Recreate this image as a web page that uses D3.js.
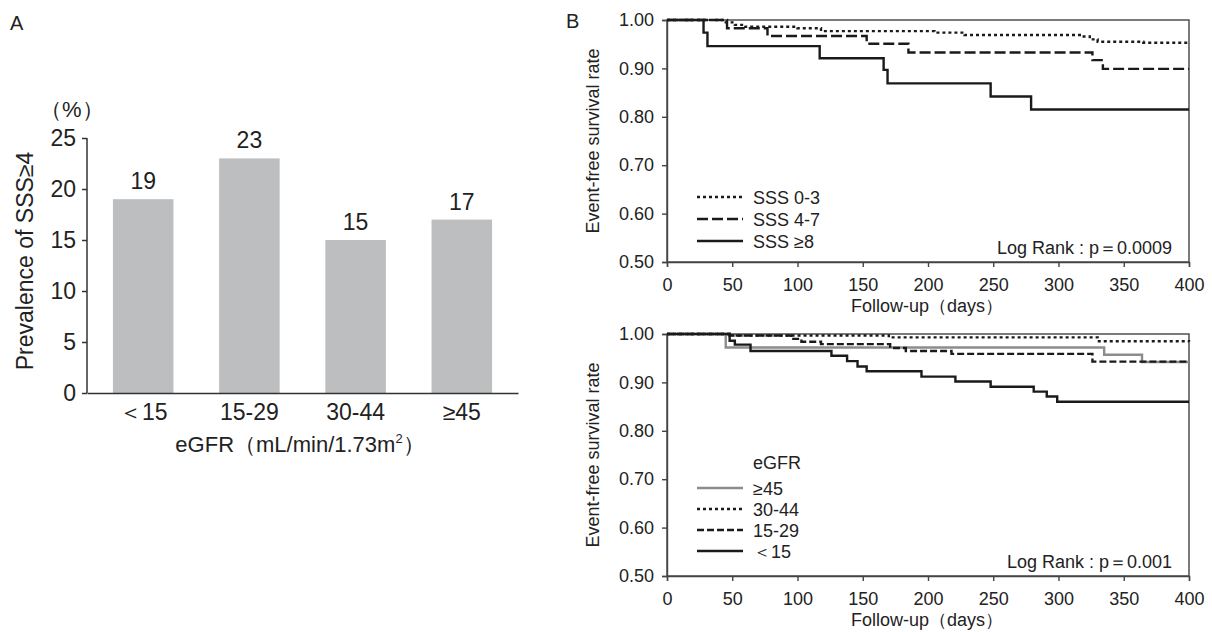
<!DOCTYPE html>
<html>
<head>
<meta charset="utf-8">
<script src="https://cdn.jsdelivr.net/npm/d3@7"></script>
<style>
  body { margin: 0; background: #fff; }
  svg { display: block; font-family: "Liberation Sans", Arial, sans-serif; }
</style>
</head>
<body>
<svg id="fig" width="1212" height="632"></svg>
<script>
// ---- panel A data
var eGFRGroups = ["＜15", "15-29", "30-44", "≥45"];
var prevalence = [19, 23, 15, 17];
var prevTicks = [0, 5, 10, 15, 20, 25];

// ---- panel B data, Kaplan-Meier steps [day, survival]
var sss03 = [[0,1],[38,1],[44,0.995],[52,0.99],[60,0.986],[100,0.983],[118,0.977],[205,0.974],[228,0.969],[318,0.966],[324,0.96],[330,0.955],[365,0.953],[400,0.953]];
var sss47 = [[0,1],[46,0.983],[77,0.967],[153,0.951],[185,0.933],[326,0.917],[334,0.899],[400,0.899]];
var sss8  = [[0,1],[28,0.974],[31,0.946],[117,0.921],[166,0.897],[169,0.869],[248,0.842],[279,0.815],[400,0.815]];

var egfr45   = [[0,1],[45,0.972],[335,0.957],[364,0.942],[400,0.942]];
var egfr3044 = [[0,1],[48,0.997],[170,0.993],[330,0.985],[400,0.984]];
var egfr1529 = [[0,1],[48,0.997],[95,0.99],[103,0.984],[118,0.979],[171,0.971],[183,0.965],[218,0.959],[326,0.943],[400,0.943]];
var egfr15   = [[0,1],[48,0.986],[52,0.978],[64,0.965],[126,0.955],[138,0.944],[146,0.933],[153,0.923],[195,0.912],[221,0.902],[248,0.891],[281,0.881],[291,0.871],[299,0.86],[400,0.86]];

var dayTicks = [0, 50, 100, 150, 200, 250, 300, 350, 400];
var survTicks = [0.5, 0.6, 0.7, 0.8, 0.9, 1.0];

var svg = d3.select("#fig");

// =================== Panel A ===================
svg.append("text").attr("x", 10).attr("y", 30)
  .attr("font-size", 20).attr("fill", "#222").text("A");

var xA = d3.scaleBand().domain(eGFRGroups).range([87, 518])
  .paddingInner(0.43).paddingOuter(0.244);
var yA = d3.scaleLinear().domain([0, 25]).range([393, 138]);

var gA = svg.append("g");

gA.selectAll(".bar")
  .data(prevalence)
  .enter()
  .append("rect")
  .attr("class", "bar")
  .attr("x", function(d, i){ return xA(eGFRGroups[i]); })
  .attr("y", function(d){ return yA(d); })
  .attr("width", xA.bandwidth())
  .attr("height", function(d){ return yA(0) - yA(d); })
  .attr("fill", "#bcbec0");

gA.selectAll(".val")
  .data(prevalence)
  .enter()
  .append("text")
  .attr("x", function(d, i){ return xA(eGFRGroups[i]) + xA.bandwidth()/2; })
  .attr("y", function(d){ return yA(d) - 10; })
  .attr("text-anchor", "middle")
  .attr("font-size", 23).attr("fill", "#222")
  .text(function(d){ return d; });

var yAxisA = gA.append("g")
  .attr("transform", "translate(87,0)")
  .call(d3.axisLeft(yA).tickValues(prevTicks).tickSize(5).tickPadding(6));
yAxisA.selectAll("text").attr("font-size", 23).attr("fill", "#222");
yAxisA.selectAll("line, path").attr("stroke", "#333").attr("stroke-width", 1.5);
yAxisA.select(".domain").attr("d", "M0," + yA(25) + "V" + yA(0));

var xAxisA = gA.append("g")
  .attr("transform", "translate(0,393)")
  .call(d3.axisBottom(xA).tickSize(0).tickPadding(11));
xAxisA.selectAll("text").attr("font-size", 23).attr("fill", "#222");
xAxisA.select(".domain").attr("stroke", "#333").attr("stroke-width", 1.5);

gA.append("text").attr("x", 40).attr("y", 117)
  .attr("font-size", 22).attr("fill", "#222").text("（%）");

gA.append("text")
  .attr("transform", "translate(33,261) rotate(-90)")
  .attr("text-anchor", "middle")
  .attr("font-size", 23).attr("fill", "#222")
  .text("Prevalence of SSS≥4");

var xlabA = gA.append("text")
  .attr("x", 300).attr("y", 452)
  .attr("text-anchor", "middle")
  .attr("font-size", 22).attr("fill", "#222");
xlabA.append("tspan").text("eGFR（mL/min/1.73m");
xlabA.append("tspan").attr("font-size", 13).attr("dy", -9).text("2");
xlabA.append("tspan").attr("dy", 9).text("）");

// =================== Panel B ===================
svg.append("text").attr("x", 566).attr("y", 28)
  .attr("font-size", 20).attr("fill", "#222").text("B");

var xB = d3.scaleLinear().domain([0, 400]).range([667, 1189]);

function kmPanel(top, bottom, curves, legendTitle, legendTop, pText) {
  var yB = d3.scaleLinear().domain([0.5, 1.0]).range([bottom, top]);
  var g = svg.append("g");

  // box
  g.append("rect")
    .attr("x", xB(0)).attr("y", yB(1))
    .attr("width", xB(400) - xB(0)).attr("height", yB(0.5) - yB(1))
    .attr("fill", "none").attr("stroke", "#444").attr("stroke-width", 1.4);

  var xAx = g.append("g")
    .attr("transform", "translate(0," + bottom + ")")
    .call(d3.axisBottom(xB).tickValues(dayTicks).tickSize(5).tickPadding(11));
  xAx.selectAll("text").attr("font-size", 18).attr("fill", "#222");
  xAx.selectAll("line, path").attr("stroke", "#444").attr("stroke-width", 1.4);

  var yAx = g.append("g")
    .attr("transform", "translate(667,0)")
    .call(d3.axisLeft(yB).tickValues(survTicks).tickFormat(d3.format(".2f")).tickSize(5).tickPadding(8));
  yAx.selectAll("text").attr("font-size", 18).attr("fill", "#222");
  yAx.selectAll("line, path").attr("stroke", "#444").attr("stroke-width", 1.4);

  var line = d3.line()
    .x(function(d){ return xB(d[0]); })
    .y(function(d){ return yB(d[1]); })
    .curve(d3.curveStepAfter);

  curves.forEach(function(c){
    g.append("path")
      .datum(c.data)
      .attr("d", line)
      .attr("fill", "none")
      .attr("stroke", c.color)
      .attr("stroke-width", 2.4)
      .attr("stroke-dasharray", c.dash);
  });

  // legend
  var ly = legendTop;
  if (legendTitle) {
    g.append("text").attr("x", 753).attr("y", ly + 6)
      .attr("font-size", 18).attr("fill", "#222").text(legendTitle);
    ly += 25;
  }
  curves.forEach(function(c, i){
    var yy = ly + i * (legendTitle ? 21 : 22);
    g.append("line")
      .attr("x1", 697).attr("x2", 743).attr("y1", yy).attr("y2", yy)
      .attr("stroke", c.color).attr("stroke-width", 2.6)
      .attr("stroke-dasharray", c.dash);
    g.append("text").attr("x", 753).attr("y", yy + 7)
      .attr("font-size", 18).attr("fill", "#222").text(c.name);
  });

  g.append("text").attr("x", 1172).attr("y", bottom - 8)
    .attr("text-anchor", "end")
    .attr("font-size", 18).attr("fill", "#222").text(pText);

  g.append("text")
    .attr("transform", "translate(599," + (top + bottom)/2 + ") rotate(-90)")
    .attr("text-anchor", "middle")
    .attr("font-size", 18).attr("fill", "#222")
    .text("Event-free survival rate");

  g.append("text").attr("x", 927).attr("y", bottom + 50)
    .attr("text-anchor", "middle")
    .attr("font-size", 18).attr("fill", "#222").text("Follow-up（days）");
}

kmPanel(20, 262, [
  {name: "SSS 0-3", data: sss03, color: "#1a1a1a", dash: "3,3"},
  {name: "SSS 4-7", data: sss47, color: "#1a1a1a", dash: "11,4"},
  {name: "SSS ≥8",  data: sss8,  color: "#1a1a1a", dash: null}
], null, 197, "Log Rank : p＝0.0009");

kmPanel(334, 576, [
  {name: "≥45",   data: egfr45,   color: "#8c8c8c", dash: null},
  {name: "30-44", data: egfr3044, color: "#1a1a1a", dash: "3,3"},
  {name: "15-29", data: egfr1529, color: "#1a1a1a", dash: "7,3"},
  {name: "＜15",  data: egfr15,   color: "#1a1a1a", dash: null}
], "eGFR", 463, "Log Rank : p＝0.001");
</script>
</body>
</html>
